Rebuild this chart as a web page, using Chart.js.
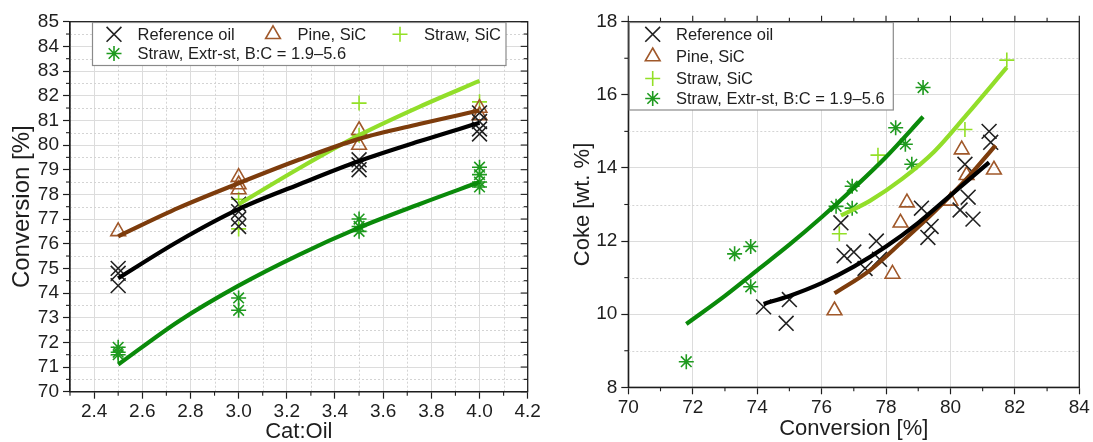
<!DOCTYPE html>
<html>
<head>
<meta charset="utf-8">
<script src="https://cdn.jsdelivr.net/npm/chart.js@4.4.1/dist/chart.umd.min.js"></script>
<style>
  html, body { margin: 0; padding: 0; background: #fff; }
  #wrap { position: relative; width: 1093px; height: 442px; overflow: hidden; background: #fff; }
  #c1 { position: absolute; left: 0; top: 0; }
  #c2 { position: absolute; left: 546px; top: 0; }
</style>
</head>
<body>
<div id="wrap">
  <canvas id="c1" width="546" height="442"></canvas>
  <canvas id="c2" width="547" height="442"></canvas>
</div>
<script>
// ---------- Panel (a): conversion vs. cat:oil ----------
const catOilTicks      = [2.4, 2.6, 2.8, 3.0, 3.2, 3.4, 3.6, 3.8, 4.0, 4.2];
const catOilMinorTicks = [2.3, 2.5, 2.7, 2.9, 3.1, 3.3, 3.5, 3.7, 3.9, 4.1];
const convTicksA       = [70, 71, 72, 73, 74, 75, 76, 77, 78, 79, 80, 81, 82, 83, 84, 85];
const convMinorTicksA  = [70.5, 71.5, 72.5, 73.5, 74.5, 75.5, 76.5, 77.5, 78.5, 79.5, 80.5, 81.5, 82.5, 83.5, 84.5];

const refOilCatOil   = [2.5, 2.5, 2.5, 3.0, 3.0, 3.0, 3.0, 3.5, 3.5, 3.5, 4.0, 4.0, 4.0, 4.0];
const refOilConvA    = [75.0, 74.8, 74.3, 77.6, 77.3, 77.0, 76.7, 79.4, 79.2, 79.0, 81.3, 80.95, 80.65, 80.45];
const pineCatOil     = [2.5, 3.0, 3.0, 3.0, 3.5, 3.5, 4.0, 4.0];
const pineConvA      = [76.5, 78.7, 78.4, 78.2, 80.6, 80.0, 81.5, 81.2];
const strawSiCCatOil = [3.0, 3.0, 3.5, 3.5, 4.0];
const strawSiCConvA  = [77.8, 76.6, 81.7, 80.4, 81.75];
const extrCatOil     = [2.5, 2.5, 2.5, 3.0, 3.0, 3.5, 3.5, 3.5, 4.0, 4.0, 4.0, 4.0];
const extrConvA      = [71.8, 71.6, 71.5, 73.8, 73.3, 77.0, 76.7, 76.5, 79.1, 78.8, 78.5, 78.3];

// fitted trend lines
const fitCatOil        = [2.5, 2.75, 3.0, 3.25, 3.5, 3.75, 4.0];
const refOilFitA       = [74.6, 76.1, 77.4, 78.4, 79.35, 80.15, 80.9];
const pineFitA         = [76.3, 77.45, 78.45, 79.4, 80.25, 80.85, 81.4];
const extrFitA         = [71.1, 72.85, 74.3, 75.55, 76.65, 77.6, 78.5];
const strawSiCFitCatOil = [3.0, 3.25, 3.5, 3.75, 4.0];
const strawSiCFitA     = [77.6, 79.05, 80.4, 81.55, 82.6];

// ---------- Panel (b): coke vs. conversion ----------
const convTicksB      = [70, 72, 74, 76, 78, 80, 82, 84];
const convMinorTicksB = [71, 73, 75, 77, 79, 81, 83];
const cokeTicks       = [8, 10, 12, 14, 16, 18];
const cokeMinorTicks  = [9, 11, 13, 15, 17];

const refOilConvB = [74.2, 74.9, 75.0, 76.6, 76.7, 77.0, 77.35, 77.7, 77.8, 79.1, 79.3, 79.4, 80.3, 80.45, 80.55, 80.7, 81.2, 81.25];
const refOilCoke  = [10.2, 9.75, 10.4, 12.5, 11.6, 11.7, 11.25, 12.0, 11.5, 12.9, 12.1, 12.4, 12.85, 14.1, 13.2, 12.6, 15.0, 14.7];
const pineConvB   = [76.4, 78.2, 78.45, 78.65, 80.0, 80.5, 80.35, 81.35];
const pineCoke    = [10.1, 11.1, 12.5, 13.05, 13.1, 13.8, 14.5, 13.95];
const strawSiCConvB = [76.55, 77.75, 80.45, 81.75];
const strawSiCCoke  = [12.2, 14.35, 15.05, 16.95];
const extrConvB   = [71.8, 73.3, 73.8, 73.8, 76.45, 76.95, 76.95, 78.3, 78.6, 78.8, 79.15];
const extrCoke    = [8.7, 11.65, 11.85, 10.75, 12.95, 12.9, 13.5, 15.1, 14.65, 14.1, 16.2];

const refOilFitConv   = [74.2, 75.0, 76.0, 77.0, 78.0, 79.0, 80.0, 81.2];
const refOilFitCoke   = [10.28, 10.5, 10.85, 11.3, 11.85, 12.5, 13.25, 14.15];
const pineFitConv     = [76.4, 77.5, 78.5, 79.5, 80.5, 81.4];
const pineFitCoke     = [10.57, 11.2, 11.98, 12.8, 13.7, 14.62];
const strawSiCFitConv = [76.6, 77.5, 78.5, 79.5, 80.5, 81.75];
const strawSiCFitCoke = [12.7, 13.1, 13.7, 14.45, 15.45, 16.75];
const extrFitConv     = [71.8, 73.0, 74.0, 75.0, 76.0, 77.0, 78.0, 79.15];
const extrFitCoke     = [9.73, 10.5, 11.2, 11.9, 12.65, 13.45, 14.3, 15.4];

const seriesNames = ['Reference oil', 'Pine, SiC', 'Straw, SiC', 'Straw, Extr-st, B:C = 1.9\u20135.6'];

// ---------- styling ----------
const FONT = "'Liberation Sans', Arial, Helvetica, sans-serif";
const INK = '#1e1e1e';
const COL = {
  ref:      { mark: '#222222', line: '#000000' },
  pine:     { mark: '#a0582a', line: '#7d3c0c' },
  strawSiC: { mark: '#93e026', line: '#92de2a' },
  extr:     { mark: '#1f9a1f', line: '#0a8a0a' }
};
Chart.defaults.font.family = FONT;
Chart.defaults.color = INK;

const pts = (xs, ys) => xs.map((x, i) => ({ x: x, y: ys[i] }));

function markers(label, data, style, color, radius) {
  return {
    type: 'scatter', label: label, data: data, order: 2,
    pointStyle: style, pointRadius: radius, pointHoverRadius: radius,
    pointBorderWidth: 1.6, borderColor: color, backgroundColor: 'rgba(0,0,0,0)',
    showLine: false
  };
}
function fitLine(data, color) {
  return {
    type: 'scatter', label: '', data: data, order: 1,
    showLine: true, borderColor: color, borderWidth: 4.2, pointRadius: 0,
    cubicInterpolationMode: 'monotone', fill: false, borderCapStyle: 'butt'
  };
}

// draws dotted minor grid, frame, minor / mirror ticks and the boxed legend
const framePlugin = {
  id: 'frame',
  beforeDatasetsDraw(chart, args, o) {
    const { ctx, chartArea: a } = chart;
    const sx = chart.scales.x, sy = chart.scales.y;
    ctx.save();
    ctx.strokeStyle = '#d4d4d4';
    ctx.lineWidth = 1;
    ctx.setLineDash([2, 2]);
    (o.xMinorGrid || []).forEach(v => {
      const p = Math.round(sx.getPixelForValue(v)) + 0.5;
      ctx.beginPath(); ctx.moveTo(p, a.top); ctx.lineTo(p, a.bottom); ctx.stroke();
    });
    (o.yMinorGrid || []).forEach(v => {
      const p = Math.round(sy.getPixelForValue(v)) + 0.5;
      ctx.beginPath(); ctx.moveTo(a.left, p); ctx.lineTo(a.right, p); ctx.stroke();
    });
    ctx.restore();
  },
  afterDraw(chart, args, o) {
    const { ctx, chartArea: a } = chart;
    const sx = chart.scales.x, sy = chart.scales.y;
    ctx.save();
    ctx.strokeStyle = INK;
    ctx.lineWidth = 1.3;
    ctx.setLineDash([]);
    ctx.strokeRect(a.left, a.top, a.right - a.left, a.bottom - a.top);
    const tick = (x1, y1, x2, y2) => { ctx.beginPath(); ctx.moveTo(x1, y1); ctx.lineTo(x2, y2); ctx.stroke(); };
    ctx.lineWidth = 1.1;
    (o.xMinor || []).forEach(v => { const p = sx.getPixelForValue(v); tick(p, a.bottom, p, a.bottom + 4); });
    (o.yMinor || []).forEach(v => { const p = sy.getPixelForValue(v); tick(a.left, p, a.left - 4, p); });
    if (o.rightMirror) {
      (o.yMajor || []).forEach(v => { const p = sy.getPixelForValue(v); tick(a.right, p, a.right - 7, p); });
      (o.yMinor || []).forEach(v => { const p = sy.getPixelForValue(v); tick(a.right, p, a.right - 4, p); });
    }
    if (o.topOut) {
      (o.xMajor || []).forEach(v => { const p = sx.getPixelForValue(v); tick(p, a.top, p, a.top - 6); });
      (o.xMinor || []).forEach(v => { const p = sx.getPixelForValue(v); tick(p, a.top, p, a.top - 4); });
    }
    // legend
    const L = o.legend;
    if (L) {
      ctx.fillStyle = '#ffffff';
      ctx.fillRect(L.box[0], L.box[1], L.box[2], L.box[3]);
      ctx.strokeStyle = '#8a8a8a';
      ctx.lineWidth = 1.2;
      ctx.strokeRect(L.box[0], L.box[1], L.box[2], L.box[3]);
      ctx.font = L.fontSize + 'px ' + FONT;
      ctx.textBaseline = 'middle';
      ctx.textAlign = 'left';
      L.items.forEach(it => {
        const ds = chart.data.datasets[it.ds];
        ctx.strokeStyle = ds.borderColor;
        ctx.fillStyle = 'rgba(0,0,0,0)';
        ctx.lineWidth = 1.6;
        Chart.helpers.drawPoint(ctx, { pointStyle: ds.pointStyle, radius: ds.pointRadius, rotation: 0, borderWidth: 1.6 }, it.mx, it.y);
        ctx.fillStyle = INK;
        ctx.fillText(ds.label, it.tx, it.y + 1);
      });
    }
    ctx.restore();
  }
};

function fixedTicks(values) {
  return scale => { scale.ticks = values.map(v => ({ value: v })); };
}

// ---------- chart (a) ----------
new Chart(document.getElementById('c1'), {
  type: 'scatter',
  data: {
    datasets: [
      markers(seriesNames[0], pts(refOilCatOil, refOilConvA), 'crossRot', COL.ref.mark, 10.5),
      markers(seriesNames[1], pts(pineCatOil, pineConvA), 'triangle', COL.pine.mark, 8.5),
      markers(seriesNames[2], pts(strawSiCCatOil, strawSiCConvA), 'cross', COL.strawSiC.mark, 7.5),
      markers(seriesNames[3], pts(extrCatOil, extrConvA), 'star', COL.extr.mark, 7.5),
      fitLine(pts(fitCatOil, refOilFitA), COL.ref.line),
      fitLine(pts(fitCatOil, pineFitA), COL.pine.line),
      fitLine(pts(strawSiCFitCatOil, strawSiCFitA), COL.strawSiC.line),
      fitLine(pts(fitCatOil, extrFitA), COL.extr.line)
    ]
  },
  options: {
    responsive: false, animation: false, events: [],
    layout: { padding: { left: 0, right: 18.3, top: 21.7, bottom: 0 } },
    plugins: {
      legend: { display: false }, tooltip: { enabled: false },
      frame: {
        xMinorGrid: catOilMinorTicks, yMinorGrid: convMinorTicksA,
        xMajor: catOilTicks, xMinor: catOilMinorTicks,
        yMajor: convTicksA, yMinor: convMinorTicksA,
        rightMirror: true, topOut: false,
        legend: {
          box: [92.5, 22.5, 413.5, 43], fontSize: 16.5,
          items: [
            { ds: 0, mx: 114, tx: 137.5, y: 34.3 },
            { ds: 1, mx: 273, tx: 297.5, y: 34.3 },
            { ds: 2, mx: 400, tx: 424, y: 34.3 },
            { ds: 3, mx: 114, tx: 137.5, y: 53.5 }
          ]
        }
      }
    },
    scales: {
      x: {
        type: 'linear', position: 'bottom', min: 2.3, max: 4.2,
        afterBuildTicks: fixedTicks(catOilTicks),
        afterFit: s => { s.height = 50.3; },
        ticks: { font: { size: 19 }, color: INK, padding: 2, maxRotation: 0, autoSkip: false,
                 callback: v => Number(v).toFixed(1) },
        grid: { color: '#dcdcdc', lineWidth: 1, tickLength: 7, tickColor: INK, tickWidth: 1.2 },
        border: { display: true, color: INK, width: 1.3 },
        title: { display: true, text: 'Cat:Oil', font: { size: 22 }, color: INK, padding: { top: 0, bottom: -3 } }
      },
      y: {
        type: 'linear', position: 'left', min: 70, max: 85,
        afterBuildTicks: fixedTicks(convTicksA),
        afterFit: s => { s.width = 70; },
        ticks: { font: { size: 19 }, color: INK, padding: 4, autoSkip: false, callback: v => String(v) },
        grid: { color: '#dcdcdc', lineWidth: 1, tickLength: 7, tickColor: INK, tickWidth: 1.2 },
        border: { display: true, color: INK, width: 1.3 },
        title: { display: true, text: 'Conversion [%]', font: { size: 24 }, color: INK, padding: { top: 8, bottom: 0 } }
      }
    }
  },
  plugins: [framePlugin]
});

// ---------- chart (b) ----------
new Chart(document.getElementById('c2'), {
  type: 'scatter',
  data: {
    datasets: [
      markers(seriesNames[0], pts(refOilConvB, refOilCoke), 'crossRot', COL.ref.mark, 10.5),
      markers(seriesNames[1], pts(pineConvB, pineCoke), 'triangle', COL.pine.mark, 8.5),
      markers(seriesNames[2], pts(strawSiCConvB, strawSiCCoke), 'cross', COL.strawSiC.mark, 7.5),
      markers(seriesNames[3], pts(extrConvB, extrCoke), 'star', COL.extr.mark, 7.5),
      fitLine(pts(refOilFitConv, refOilFitCoke), COL.ref.line),
      fitLine(pts(pineFitConv, pineFitCoke), COL.pine.line),
      fitLine(pts(strawSiCFitConv, strawSiCFitCoke), COL.strawSiC.line),
      fitLine(pts(extrFitConv, extrFitCoke), COL.extr.line)
    ]
  },
  options: {
    responsive: false, animation: false, events: [],
    layout: { padding: { left: 0, right: 13.7, top: 21.7, bottom: 0 } },
    plugins: {
      legend: { display: false }, tooltip: { enabled: false },
      frame: {
        xMinorGrid: [], yMinorGrid: cokeMinorTicks,
        xMajor: convTicksB, xMinor: convMinorTicksB,
        yMajor: cokeTicks, yMinor: cokeMinorTicks,
        rightMirror: false, topOut: true,
        legend: {
          box: [83.3, 22.5, 264, 87.5], fontSize: 16.5,
          items: [
            { ds: 0, mx: 106.7, tx: 130, y: 34.3 },
            { ds: 1, mx: 106.7, tx: 130, y: 56.5 },
            { ds: 2, mx: 106.7, tx: 130, y: 78.5 },
            { ds: 3, mx: 106.7, tx: 130, y: 98.5 }
          ]
        }
      }
    },
    scales: {
      x: {
        type: 'linear', position: 'bottom', min: 70, max: 84,
        afterBuildTicks: fixedTicks(convTicksB),
        afterFit: s => { s.height = 54.7; },
        ticks: { font: { size: 19 }, color: INK, padding: 2, maxRotation: 0, autoSkip: false, callback: v => String(v) },
        grid: { color: '#dcdcdc', lineWidth: 1, tickLength: 7, tickColor: INK, tickWidth: 1.2 },
        border: { display: true, color: INK, width: 1.3 },
        title: { display: true, text: 'Conversion [%]', font: { size: 22 }, color: INK, padding: { top: 0, bottom: 0 } }
      },
      y: {
        type: 'linear', position: 'left', min: 8, max: 18,
        afterBuildTicks: fixedTicks(cokeTicks),
        afterFit: s => { s.width = 82.3; },
        ticks: { font: { size: 19 }, color: INK, padding: 4, autoSkip: false, callback: v => String(v) },
        grid: { color: '#dcdcdc', lineWidth: 1, tickLength: 7, tickColor: INK, tickWidth: 1.2 },
        border: { display: true, color: INK, width: 1.3 },
        title: { display: true, text: 'Coke [wt. %]', font: { size: 22 }, color: INK, padding: { top: 24, bottom: 0 } }
      }
    }
  },
  plugins: [framePlugin]
});
</script>
</body>
</html>
